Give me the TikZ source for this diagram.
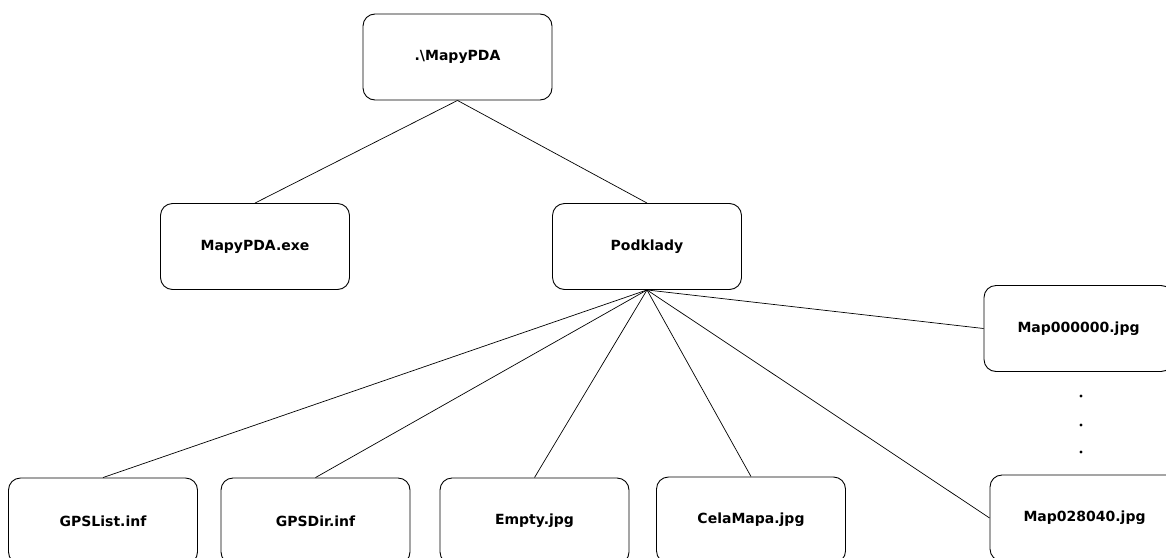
\documentclass[tikz,border=0pt]{standalone}
\usepackage{fontspec}
\setmainfont{DejaVu Sans}

\tikzset{
    filebox/.style={draw, rounded corners=12pt, line width=0.9pt, minimum width=189pt,
        minimum height=86pt, inner sep=0pt, font=\bfseries\fontsize{14}{16}\selectfont},
    branch/.style={line width=0.7pt}
}

\begin{document}
\begin{tikzpicture}[x=1pt, y=-1pt]
            \useasboundingbox (0, 0) rectangle (1166, 557);
            \node[filebox] (root) at (457.5, 57) {.\textbackslash MapyPDA};
            \node[filebox] (exe) at (255, 246.5) {MapyPDA.exe};
            \node[filebox] (pod) at (647, 246.5) {Podklady};
            \node[filebox] (gpslist) at (103, 521) {GPSList.inf};
            \node[filebox] (gpsdir) at (315.5, 521) {GPSDir.inf};
            \node[filebox] (empty) at (534.5, 521) {Empty.jpg};
            \node[filebox] (celamapa) at (751, 520) {CelaMapa.jpg};
            \node[filebox] (mapfirst) at (1078.5, 328.5) {Map000000.jpg};
            \node[filebox] (maplast) at (1084.5, 518) {Map028040.jpg};
            \draw[branch] (root.south) -- (exe.north);
            \draw[branch] (root.south) -- (pod.north);
            \draw[branch] (pod.south) -- (gpslist.north);
            \draw[branch] (pod.south) -- (gpsdir.north);
            \draw[branch] (pod.south) -- (empty.north);
            \draw[branch] (pod.south) -- (celamapa.north);
            \draw[branch] (pod.south) -- (mapfirst.west);
            \draw[branch] (pod.south) -- (maplast.west);
            \fill (1081, 396) circle (1.6);
            \fill (1081, 425) circle (1.6);
            \fill (1081, 452) circle (1.6);
        \end{tikzpicture}
\end{document}
